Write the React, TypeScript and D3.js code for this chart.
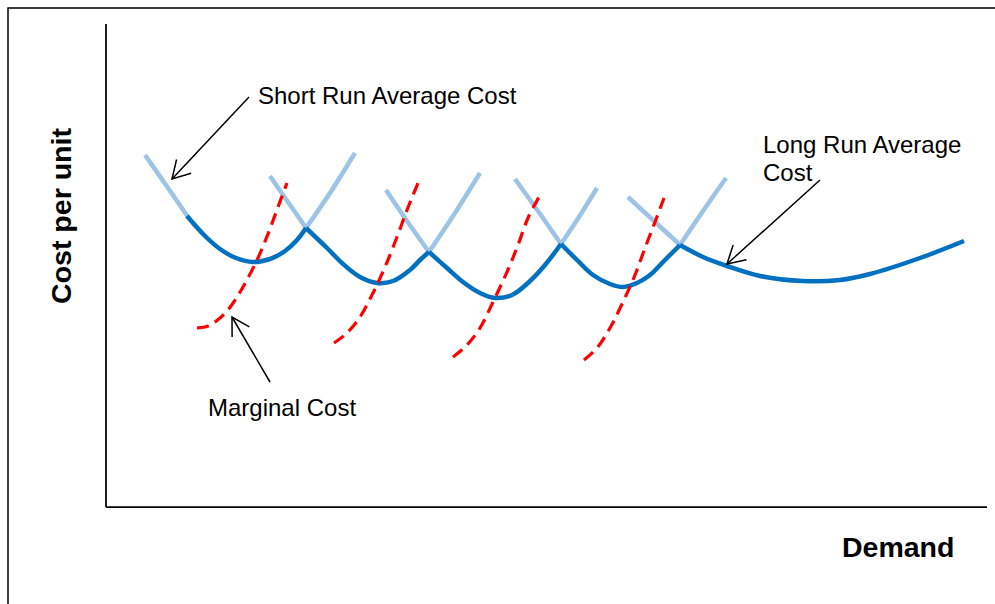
import React from "react";
import * as d3 from "d3";

type P = [number, number];

// Demand (x) / cost per unit (y) values
const X_MAX = 88;
const Y_MAX = 48.3;

// light blue short-run average cost arms (parts above the envelope)
const sracArms: P[][] = [
  [[3.9, 35.2], [6.0, 32.2], [8.2, 29.0]],
  [[16.4, 33.1], [18.2, 30.5], [20.0, 27.9]],
  [[20.0, 27.9], [22.4, 31.4], [24.9, 35.4]],
  [[28.0, 31.7], [30.1, 28.6], [32.3, 25.5]],
  [[32.3, 25.5], [34.9, 29.4], [37.4, 33.4]],
  [[40.9, 32.8], [43.2, 29.6], [45.5, 26.3]],
  [[45.5, 26.3], [47.3, 29.0], [49.1, 31.9]],
  [[52.2, 31.0], [54.8, 28.6], [57.4, 26.2]],
  [[57.4, 26.2], [59.7, 29.6], [62.0, 32.9]],
];

// dark blue long-run average cost envelope (scallops + tail)
const lracSegments: P[][] = [
  [[8.1, 29.1], [9.9, 27.1], [11.4, 25.8], [13.0, 24.9], [14.7, 24.5], [16.4, 24.8], [17.9, 25.6], [19.1, 26.7], [20.0, 27.9]],
  [[20.0, 27.9], [22.1, 25.9], [23.7, 24.3], [25.4, 23.0], [27.1, 22.4], [28.7, 22.6], [30.4, 23.7], [31.4, 24.7], [32.3, 25.5]],
  [[32.3, 25.5], [34.1, 23.9], [35.7, 22.5], [37.4, 21.4], [38.9, 20.9], [40.6, 21.2], [42.3, 22.5], [43.9, 24.2], [45.5, 26.3]],
  [[45.5, 26.3], [47.1, 24.7], [48.7, 23.2], [50.4, 22.3], [51.7, 22.0], [53.1, 22.4], [54.4, 23.2], [55.7, 24.5], [57.4, 26.2]],
  [[57.4, 26.2], [59.7, 25.0], [62.1, 24.1], [65.4, 23.1], [69.7, 22.6], [73.4, 22.7], [76.4, 23.3], [81.4, 24.9], [85.8, 26.6]],
];

// red dashed marginal cost curves
const marginalCost: P[][] = [
  [[9.1, 17.9], [10.2, 18.1], [11.4, 18.9], [12.5, 20.1], [13.7, 22.0], [15.1, 24.7], [16.2, 27.3], [17.2, 30.0], [18.1, 32.4]],
  [[22.8, 16.4], [24.1, 17.4], [25.4, 19.0], [26.7, 21.4], [27.9, 24.0], [29.1, 27.0], [30.1, 29.7], [31.2, 32.4]],
  [[34.7, 15.0], [36.1, 16.2], [37.4, 17.9], [38.7, 20.5], [40.1, 23.5], [41.2, 26.2], [42.2, 28.9], [43.3, 31.0]],
  [[47.8, 14.7], [49.1, 15.9], [50.4, 17.9], [51.7, 20.5], [52.9, 23.2], [53.9, 25.9], [54.9, 28.5], [55.8, 30.9]],
];

const labelTexts = ["Short Run Average Cost", "Long Run Average", "Cost", "Marginal Cost"];
const axisTitles = ["Demand", "Cost per unit"];

const W = 995;
const H = 604;
const FONT = "Arial, 'Liberation Sans', sans-serif";

export default function App() {
  const x = d3.scaleLinear().domain([0, X_MAX]).range([106, 986]);
  const y = d3.scaleLinear().domain([0, Y_MAX]).range([507, 24]);
  const line = d3
    .line<P>()
    .x((d) => x(d[0]))
    .y((d) => y(d[1]))
    .curve(d3.curveCatmullRom.alpha(0.5));

  const arrow = (x1: number, y1: number, tx: number, ty: number) => {
    const ang = Math.atan2(y1 - ty, x1 - tx);
    const L = 20;
    const a = (30 * Math.PI) / 180;
    const p1 = [tx + L * Math.cos(ang - a), ty + L * Math.sin(ang - a)];
    const p2 = [tx + L * Math.cos(ang + a), ty + L * Math.sin(ang + a)];
    return (
      <g stroke="#000" strokeWidth={1.5} fill="none">
        <line x1={x1} y1={y1} x2={tx} y2={ty} />
        <path d={`M${p1[0]},${p1[1]}L${tx},${ty}L${p2[0]},${p2[1]}`} />
      </g>
    );
  };

  return (
    <svg
      width={W}
      height={H}
      style={{ position: "absolute", left: 0, top: 0, background: "#fff" }}
    >
      <rect x={8} y={8} width={1100} height={800} fill="none" stroke="#000" strokeWidth={1.5} />

      {/* axes */}
      <line x1={x(0)} y1={y(0)} x2={x(0)} y2={y(Y_MAX)} stroke="#000" strokeWidth={1.75} />
      <line x1={x(0)} y1={y(0)} x2={x(X_MAX) + 1} y2={y(0)} stroke="#000" strokeWidth={1.75} />

      {/* short run arms */}
      {sracArms.map((seg, i) => (
        <path key={"a" + i} d={line(seg) || ""} fill="none" stroke="#9DC3E6" strokeWidth={4.5} />
      ))}

      {/* long run envelope */}
      {lracSegments.map((seg, i) => (
        <path key={"l" + i} d={line(seg) || ""} fill="none" stroke="#0070C0" strokeWidth={4.5} />
      ))}

      {/* marginal cost */}
      {marginalCost.map((seg, i) => (
        <path
          key={"m" + i}
          d={line(seg) || ""}
          fill="none"
          stroke="#FF0000"
          strokeWidth={3.2}
          strokeDasharray="12 7"
        />
      ))}

      {/* annotations */}
      {arrow(249, 97, 172, 179)}
      {arrow(820, 180, 727, 264)}
      {arrow(270, 382, 232, 317)}

      <g fontFamily={FONT} fontSize={24} fill="#000">
        <text x={258} y={104}>{labelTexts[0]}</text>
        <text x={763} y={153}>{labelTexts[1]}</text>
        <text x={763} y={181}>{labelTexts[2]}</text>
        <text x={208} y={416}>{labelTexts[3]}</text>
      </g>

      <g fontFamily={FONT} fontSize={28.5} fontWeight="bold" fill="#000">
        <text x={842} y={557}>{axisTitles[0]}</text>
        <text transform="translate(71,216) rotate(-90)" textAnchor="middle">
          {axisTitles[1]}
        </text>
      </g>
    </svg>
  );
}
